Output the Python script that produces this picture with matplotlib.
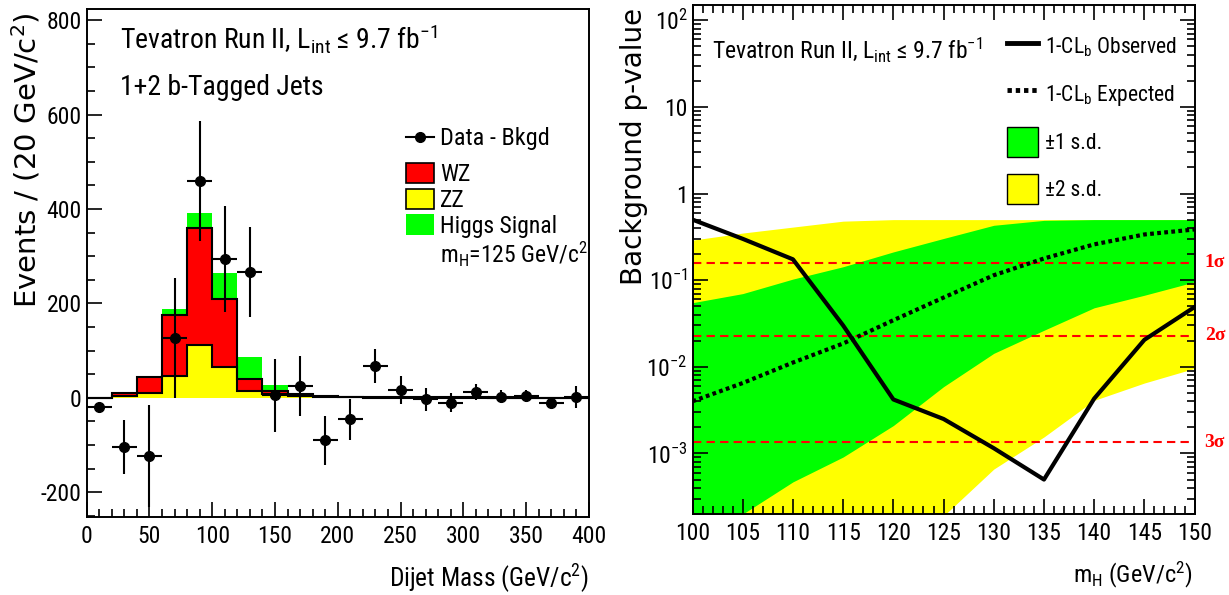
import matplotlib
matplotlib.use("Agg")
import matplotlib.pyplot as plt
from matplotlib.lines import Line2D
from matplotlib.patches import Patch
from matplotlib.ticker import MultipleLocator, FuncFormatter, FixedLocator, LogLocator, NullFormatter
import numpy as np

NARROW = ['Roboto Condensed', 'Archivo Narrow', 'Liberation Sans', 'DejaVu Sans']
WIDE = ['DejaVu Sans']
plt.rcParams['font.family'] = NARROW
plt.rcParams['mathtext.default'] = 'regular'
plt.rcParams['axes.unicode_minus'] = False

# ---------------- left panel data ----------------
bin_edges = np.arange(0, 401, 20)
zz = [0, 3.5, 10.5, 46, 112, 66, 15, 7, 4, 2, 1, 0.5, 0.5, 0.5, 0.3, 0.3, 0.2, 0.2, 0.1, 0.1]
wz = [0, 7, 33.5, 130, 247, 144, 25, 8, 4, 2, 1, 1, 1, 0.5, 0.5, 0.5, 0.3, 0.3, 0.3, 0.2]
higgs = [0, 2, 3, 13, 33, 54, 46, 13, 3, 1, 1, 0.5, 0.5, 0.5, 0, 0, 0, 0, 0, 0]
data_minus_bkg = [-19, -104, -123, 126, 460, 294, 267, 5, 25, -90, -46, 67, 16, -3.5, -10.5, 12, 2, 4, -10.5, 1]
data_err = [8, 57, 108, 127, 127, 112, 95, 77, 63, 52, 43, 36, 30, 25, 20, 17, 14, 12, 10, 23]

# ---------------- right panel data ----------------
mh = [100, 105, 110, 115, 120, 125, 130, 135, 140, 145, 150]
p_obs = [0.50, 0.30, 0.174, 0.030, 0.0042, 0.0025, 0.00115, 0.0005, 0.0043, 0.0205, 0.049]
p_exp = [0.0040, 0.0065, 0.0112, 0.0186, 0.0345, 0.063, 0.114, 0.178, 0.259, 0.337, 0.385]
band1_hi = [0.055, 0.070, 0.103, 0.143, 0.212, 0.303, 0.43, 0.49, 0.5, 0.5, 0.5]
band1_lo = [1.0e-4, 2.0e-4, 4.7e-4, 9.1e-4, 0.0021, 0.0059, 0.0143, 0.0264, 0.048, 0.067, 0.0955]
band2_hi = [0.29, 0.35, 0.41, 0.48, 0.5, 0.5, 0.5, 0.5, 0.5, 0.5, 0.5]
band2_lo = [1e-6, 2e-6, 5e-6, 1.5e-5, 6e-5, 1.9e-4, 6.6e-4, 0.00155, 0.0041, 0.0065, 0.0096]
sigma_p = [0.1587, 0.02275, 0.00135]
sigma_lab = ['1σ', '2σ', '3σ']
ylog_ticks = [1e-3, 1e-2, 1e-1, 1, 10, 100]

RED, YEL, GRN = '#ff0000', '#ffff00', '#00ff00'

fig = plt.figure(figsize=(12.29, 5.95), dpi=100)
axL = fig.add_axes([0.0705, 0.1316, 0.4087, 0.8533])
axR = fig.add_axes([0.5635, 0.1361, 0.4085, 0.8555])

for ax in (axL, axR):
    for s in ax.spines.values():
        s.set_linewidth(1.4)

# ---- left: stacked histogram ----
zz_a = np.array(zz)
wz_a = zz_a + np.array(wz)
tot_a = wz_a + np.array(higgs)
axL.stairs(tot_a, bin_edges, fill=True, color=GRN, lw=0)
axL.stairs(wz_a, bin_edges, fill=True, color=RED, lw=0)
axL.stairs(zz_a, bin_edges, fill=True, color=YEL, lw=0)
axL.stairs(zz_a, bin_edges, color='black', lw=1.5, baseline=None)
axL.stairs(wz_a, bin_edges, color='black', lw=1.5, baseline=None)
centers = 0.5 * (bin_edges[:-1] + bin_edges[1:])
axL.errorbar(centers, data_minus_bkg, yerr=data_err, xerr=10, fmt='o', color='black',
             ms=7, elinewidth=1.5, capsize=0, zorder=5)
axL.set_xlim(0, 400)
axL.set_ylim(-252, 824)
axL.xaxis.set_major_locator(MultipleLocator(50))
axL.xaxis.set_minor_locator(MultipleLocator(10))
axL.yaxis.set_major_locator(MultipleLocator(200))
axL.yaxis.set_minor_locator(MultipleLocator(50))
axL.tick_params(which='both', direction='in', top=False, right=False, width=1.2, labelsize=17)
axL.tick_params(which='major', length=11)
axL.tick_params(which='minor', length=5.5)
axL.tick_params(axis='y', pad=3.5)
axL.tick_params(axis='x', pad=6)

axL.text(0.066, 0.923, 'Tevatron Run II, L$_{int}$ ≤ 9.7 fb$^{-1}$', transform=axL.transAxes,
         fontsize=20, va='baseline', ha='left')
axL.text(0.066, 0.8306, '1+2 b-Tagged Jets', transform=axL.transAxes,
         fontsize=20, va='baseline', ha='left')

leg1 = axL.legend([Line2D([], [], color='black', marker='o', ms=7, lw=1.5)], ['Data - Bkgd'],
                  loc='center left', bbox_to_anchor=(0.6357, (516.7 - 139) / 507.7),
                  frameon=False, fontsize=17.5, borderpad=0, borderaxespad=0, handlelength=1.15,
                  handletextpad=0.25)
axL.add_artist(leg1)
hL = [Patch(fc=RED, ec='black', lw=1.2),
      Patch(fc=YEL, ec='black', lw=1.2),
      Patch(fc=GRN, ec=GRN, lw=0),
      Patch(visible=False)]
lL = ['WZ', 'ZZ', 'Higgs Signal', 'm$_H$=125 GeV/c$^2$']
axL.legend(hL, lL, loc='upper left', bbox_to_anchor=(0.6357, (516.7 - 163) / 507.7), frameon=False,
           fontsize=17, borderpad=0, borderaxespad=0, handlelength=1.2, handleheight=0.95,
           handletextpad=0.25, labelspacing=0.1)

fig.text(26 / 1229, 1 - 12 / 595, 'Events / (20 GeV/c$^2$)', rotation=90, ha='center', va='top',
         fontsize=21, family=WIDE)
fig.text(589 / 1229, 1 - 578 / 595, 'Dijet Mass (GeV/c$^2$)', ha='right', va='center', fontsize=18.3)

# ---- right: p-values ----
axR.set_yscale('log')
axR.fill_between(mh, band2_lo, band2_hi, color=YEL, lw=0)
axR.fill_between(mh, band1_lo, band1_hi, color=GRN, lw=0)
for p in sigma_p:
    axR.axhline(p, color=RED, lw=1.5, ls=(0, (4, 2.5)))
axR.plot(mh, p_exp, color='black', lw=3, ls=(0, (0.9, 0.8)))
axR.plot(mh, p_obs, color='black', lw=3)
axR.set_xlim(100, 150)
axR.set_ylim(2e-4, 150)
for p, lab in zip(sigma_p, sigma_lab):
    axR.text(1.02, p, lab, transform=axR.get_yaxis_transform(), color=RED, fontsize=14,
             family=['Liberation Serif', 'DejaVu Serif'], fontweight='bold', va='center', ha='left')

axR.xaxis.set_major_locator(MultipleLocator(5))
axR.xaxis.set_minor_locator(MultipleLocator(1))
axR.yaxis.set_major_locator(FixedLocator(ylog_ticks))
axR.yaxis.set_minor_locator(LogLocator(base=10, subs=np.arange(2, 10), numticks=20))
axR.yaxis.set_minor_formatter(NullFormatter())

def logfmt(v, pos):
    e = int(round(np.log10(v)))
    if e == 0:
        return '1'
    if e == 1:
        return '10'
    return '10$^{%d}$' % e
axR.yaxis.set_major_formatter(FuncFormatter(logfmt))
axR.tick_params(which='both', direction='in', top=True, right=True, width=1.2, labelsize=17)
axR.tick_params(which='major', length=11)
axR.tick_params(which='minor', length=5.5)
axR.tick_params(axis='y', pad=3.5)
axR.tick_params(axis='x', pad=6)

axR.text(0.039, 0.896, 'Tevatron Run II, L$_{int}$ ≤ 9.7 fb$^{-1}$', transform=axR.transAxes,
         fontsize=17, va='baseline', ha='left')

hR = [Line2D([], [], color='black', lw=3.5),
      Line2D([], [], color='black', lw=3.5, ls=(0, (0.9, 0.8))),
      Patch(fc=GRN, ec='black', lw=1),
      Patch(fc=YEL, ec='black', lw=1)]
lR = ['1-CL$_b$ Observed', '1-CL$_b$ Expected', '±1 s.d.', '±2 s.d.']
axR.legend(hR, lR, loc='upper left', bbox_to_anchor=(0.6265, (514 - 32) / 509), frameon=False,
           fontsize=15.5, borderpad=0, borderaxespad=0, handlelength=1.45, handleheight=1.75,
           handletextpad=0.3, labelspacing=0.82)

fig.text(634 / 1229, 1 - 8 / 595, 'Background p-value', rotation=90, ha='center', va='top',
         fontsize=20, family=WIDE)
fig.text(1193 / 1229, 1 - 575 / 595, 'm$_H$ (GeV/c$^2$)', ha='right', va='center', fontsize=17.5)

fig.savefig('out.png', dpi=100)
